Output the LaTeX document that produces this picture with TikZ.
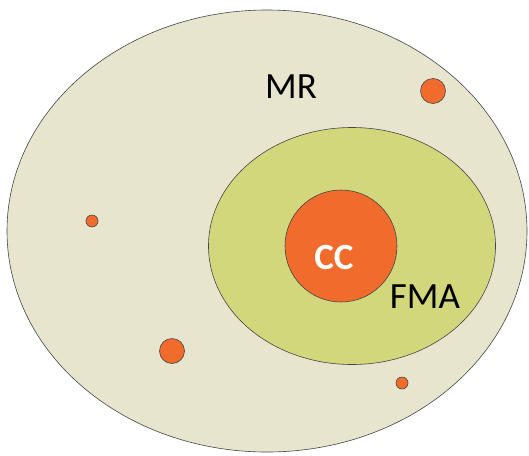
\documentclass[tikz,border=0pt]{standalone}
\usepackage{fontspec}
\setmainfont{Carlito}
\usetikzlibrary{shapes.geometric,positioning}

\definecolor{mrbeige}{RGB}{232,229,206}
\definecolor{fmagreen}{RGB}{211,215,123}
\definecolor{ccorange}{RGB}{241,108,44}
\definecolor{rimgray}{RGB}{70,70,70}

\begin{document}
\begin{tikzpicture}[
    x = 1pt, y = -1pt,
    font = \fontsize{37}{40}\selectfont
  ]

  \useasboundingbox (0,0) rectangle (529,455);

  \tikzstyle {every node} = [inner sep = 0, outer sep = 0]
  \tikzstyle {zone} = [ellipse, draw = rimgray, line width = 0.6pt]
  \tikzstyle {spot} = [circle, draw = rimgray, line width = 0.6pt, fill = ccorange]
  \tikzstyle {lbl} = [color = black]

  \fill [white] (0,0) rectangle (529,455);

  % nested regions
  \node [zone, fill = mrbeige, minimum width = 520pt, minimum height = 442pt] (mr) at (267,231) {};
  \node [zone, fill = fmagreen, minimum width = 287pt, minimum height = 237pt] (fma) at (352,246) {};
  \node [spot, minimum size = 112pt] (cc) at (341,246) {};

  % scattered spots
  \node [spot, minimum size = 25pt] (s1) at (433,91) {};
  \node [spot, minimum size = 12pt] (s2) at (92,221) {};
  \node [spot, minimum size = 25pt] (s3) at (172,351) {};
  \node [spot, minimum size = 12pt] (s4) at (402,383) {};

  % labels
  \node [lbl] (mrlbl) at (291,87) {MR};
  \node [lbl] (fmalbl) at (425,297) {FMA};
  \node [color = white, font = \fontsize{37}{40}\selectfont\bfseries] (cclbl) at (334,257) {CC};
\end{tikzpicture}
\end{document}
